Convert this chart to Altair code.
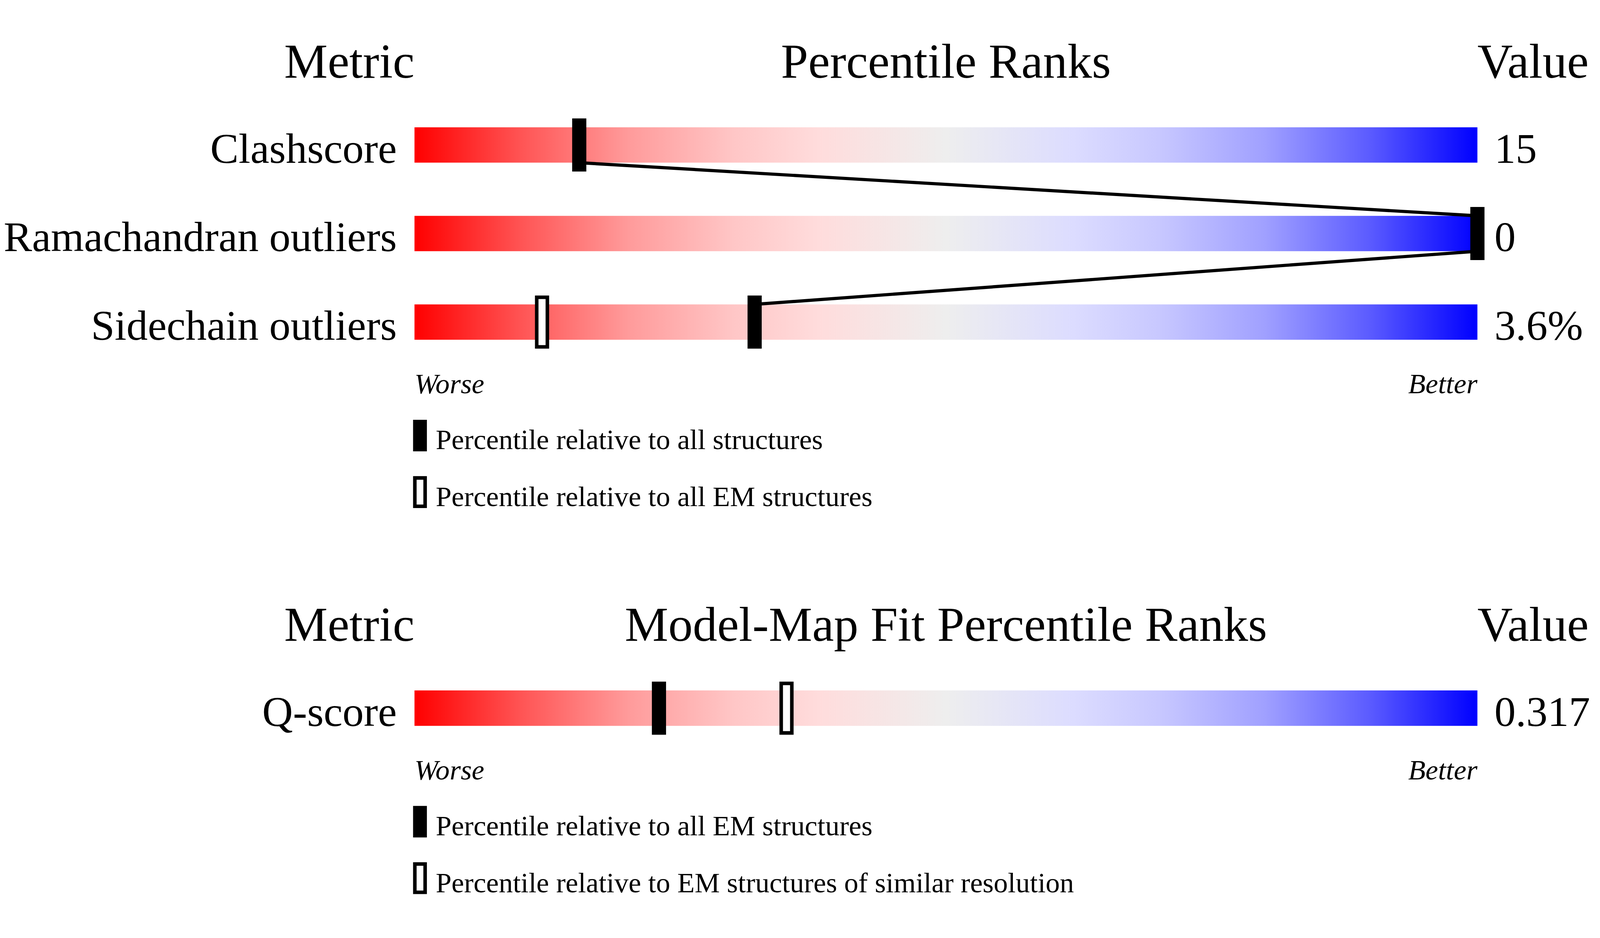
import altair as alt
import pandas as pd

FONT = "Liberation Serif"

# --- panel 1: model geometry ---
metrics_1 = ["Clashscore", "Ramachandran outliers", "Sidechain outliers"]
values_1 = ["15", "0", "3.6%"]
pct_all_1 = [15.5, 100, 32]        # filled markers (all structures)
pct_em_1 = [None, None, 12]        # hollow markers (all EM structures)
legend_1 = ["Percentile relative to all structures",
            "Percentile relative to all EM structures"]

# --- panel 2: model-map fit ---
metrics_2 = ["Q-score"]
values_2 = ["0.317"]
pct_all_2 = [23]                   # filled (all EM structures)
pct_sim_2 = [35]                   # hollow (similar resolution)
legend_2 = ["Percentile relative to all EM structures",
            "Percentile relative to EM structures of similar resolution"]

grad_offsets = [0, 0.10, 0.20, 0.30, 0.38, 0.50, 0.62, 0.70, 0.80, 0.90, 1]
grad_colors = ["#ff0000", "#ff5454", "#ff9a9a", "#ffc6c6", "#ffdcdc", "#eeeeee",
               "#dcdcff", "#c8c8ff", "#a0a0ff", "#5a5aff", "#0000ff"]

# layout (pixels of the full-size picture, shrunk a touch to fit the page)
S = 0.9935
OX = 8
W, H = 4469, 2386
BAR_L, BAR_R = 1153, 4153
STEP = 250


def px(v):
    return OX + S * v


def py(v):
    return S * v


gradient = alt.LinearGradient(
    gradient="linear",
    stops=[alt.GradientStop(offset=o, color=c) for o, c in zip(grad_offsets, grad_colors)],
    x1=0, x2=1, y1=0, y2=0,
)
xs = alt.Scale(domain=[0, 100], range=[px(BAR_L), px(BAR_R)], nice=False, zero=False)


def panel(title, metrics, values, filled, hollow, legend, top):
    bottom = top + len(metrics) * STEP
    ys = alt.Scale(domain=metrics, range=[py(top), py(bottom)], paddingInner=0, paddingOuter=0)
    y = alt.Y("metric:N", scale=ys, axis=None)

    rows = pd.DataFrame({"metric": metrics, "value": values, "lo": 0, "hi": 100})
    base = alt.Chart(rows)

    layers = [
        base.mark_bar(size=S * 100, color=gradient).encode(
            x=alt.X("lo:Q", scale=xs, axis=None), x2="hi:Q", y=y),
        base.mark_text(align="right", baseline="alphabetic", dy=S * 50,
                       fontSize=S * 120, font=FONT).encode(
            x=alt.value(px(BAR_L - 50)), y=y, text="metric:N"),
        base.mark_text(align="left", baseline="alphabetic", dy=S * 50,
                       fontSize=S * 120, font=FONT).encode(
            x=alt.value(px(BAR_R + 48)), y=y, text="value:N"),
    ]

    # lines joining consecutive filled markers
    f = pd.DataFrame({"metric": metrics, "pct": filled}).dropna()
    if len(f) > 1:
        seg = pd.DataFrame({
            "m1": f["metric"].values[:-1], "p1": f["pct"].values[:-1],
            "m2": f["metric"].values[1:], "p2": f["pct"].values[1:],
        })
        layers.append(
            alt.Chart(seg).mark_rule(color="black", strokeWidth=S * 9,
                                     yOffset=S * 50, y2Offset=-S * 50).encode(
                x=alt.X("p1:Q", scale=xs, axis=None), x2="p2:Q",
                y=alt.Y("m1:N", scale=ys, axis=None), y2="m2:N")
        )

    hdf = pd.DataFrame({"metric": metrics, "pct": hollow}).dropna()
    layers.append(
        alt.Chart(hdf).mark_tick(fill="white", stroke="black", strokeWidth=S * 10,
                                 thickness=S * 30, size=S * 140, opacity=1, fillOpacity=1).encode(
            x=alt.X("pct:Q", scale=xs, axis=None), y=y)
    )
    layers.append(
        alt.Chart(f).mark_tick(color="black", thickness=S * 40, size=S * 150, opacity=1).encode(
            x=alt.X("pct:Q", scale=xs, axis=None), y=y)
    )

    # headers
    head = alt.Chart(pd.DataFrame({"t": [0]}))
    for txt, xpos, al in [("Metric", BAR_L, "right"),
                          (title, (BAR_L + BAR_R) / 2, "center"),
                          ("Value", BAR_R, "left")]:
        layers.append(head.mark_text(text=txt, align=al, baseline="alphabetic",
                                     fontSize=S * 138, font=FONT).encode(
            x=alt.value(px(xpos)), y=alt.value(py(top - 65))))

    # worse / better
    for txt, xpos, al in [("Worse", BAR_L, "left"), ("Better", BAR_R, "right")]:
        layers.append(head.mark_text(text=txt, align=al, baseline="alphabetic",
                                     fontStyle="italic", fontSize=S * 80, font=FONT).encode(
            x=alt.value(px(xpos)), y=alt.value(py(bottom + 76))))

    # legend
    layers.append(head.mark_rect(color="black").encode(
        x=alt.value(px(BAR_L - 4)), x2=alt.value(px(BAR_L + 35)),
        y=alt.value(py(bottom + 151)), y2=alt.value(py(bottom + 240))))
    layers.append(head.mark_rect(fill="white", stroke="black", strokeWidth=S * 10).encode(
        x=alt.value(px(BAR_L + 1)), x2=alt.value(px(BAR_L + 30)),
        y=alt.value(py(bottom + 315)), y2=alt.value(py(bottom + 395))))
    for txt, off in zip(legend, [234, 395]):
        layers.append(head.mark_text(text=txt, align="left", baseline="alphabetic",
                                     fontSize=S * 80, font=FONT).encode(
            x=alt.value(px(BAR_L + 60)), y=alt.value(py(bottom + off))))
    return layers


layers = (panel("Percentile Ranks", metrics_1, values_1, pct_all_1, pct_em_1, legend_1, 161)
          + panel("Model-Map Fit Percentile Ranks", metrics_2, values_2, pct_all_2, pct_sim_2, legend_2, 1751))

chart = (
    alt.layer(*layers)
    .resolve_scale(y="independent")
    .properties(width=W, height=H, padding=0, background="white",
                autosize=alt.AutoSizeParams(type="none"))
    .configure_view(stroke=None)
)

chart.save("out.html", embed_options={"renderer": "svg", "actions": False})
